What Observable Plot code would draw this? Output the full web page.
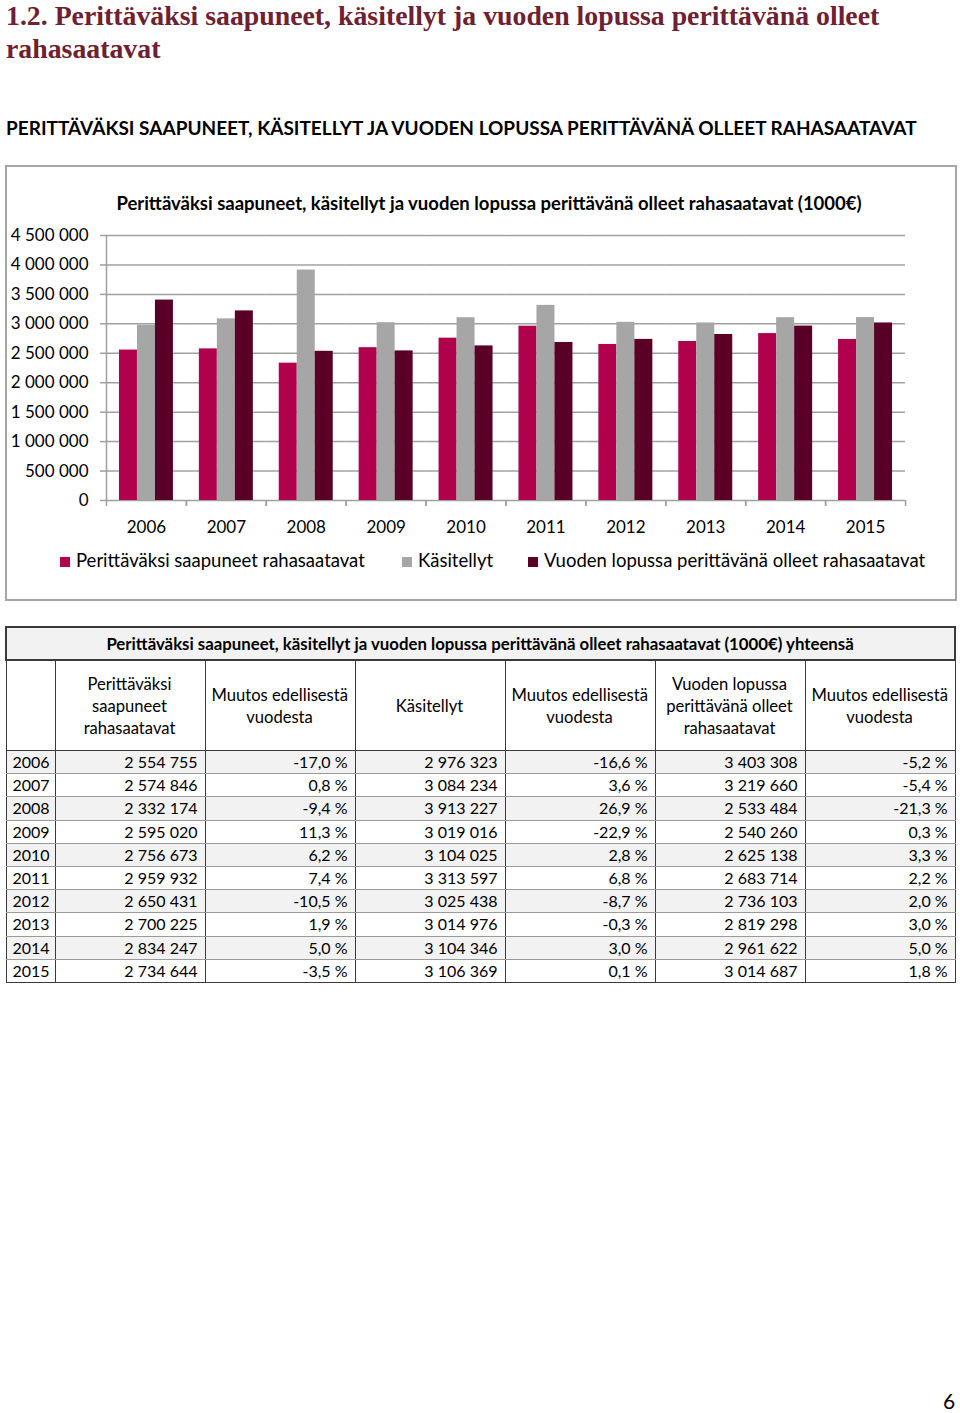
<!DOCTYPE html>
<html>
<head>
<meta charset="utf-8">
<script src="https://cdn.jsdelivr.net/npm/d3@7"></script>
<script src="https://cdn.jsdelivr.net/npm/@observablehq/plot@0.6"></script>
<style>
  body { margin: 0; background: #fff; }
  #page { position: relative; width: 960px; height: 1413px; overflow: hidden; font-family: Lato, "Noto Sans", sans-serif; color: #000; }
  .abs { position: absolute; white-space: nowrap; }
  .h1 { left: 6px; font-family: "Liberation Serif", serif; font-weight: bold; font-size: 27.8px; line-height: 30px; color: #6e2130; }
  #h1a { top: 1px; }
  #h1b { top: 34px; }
  #h2 { left: 6px; top: 117px; font-weight: bold; font-size: 19px; line-height: 22px; }
  #box { left: 5px; top: 165px; width: 952px; height: 436px; border: 2px solid #a6a6a6; box-sizing: border-box; }
  #ctitle { left: 0; width: 978px; text-align: center; top: 192px; font-weight: bold; font-size: 18.5px; line-height: 22px; }
  #chart { left: 0; top: 225px; }
  #legend { left: 0; top: 549px; font-size: 18.5px; line-height: 22px; }
  .item { position: absolute; white-space: nowrap; }
  .sw { display: inline-block; width: 10px; height: 10px; margin-right: 6px; vertical-align: 0px; }
  #tbl { left: 5px; top: 626px; width: 951px; border-collapse: collapse; font-size: 16px; table-layout: fixed; }
  #tbl td, #tbl th { padding: 0 7px 0 6px; }
  #tbl .ttl { background: #f2f2f2; font-weight: bold; text-align: center; height: 31px; border: 2px solid #3a3a3a; font-size: 16.8px; }
  #tbl .hd { font-weight: normal; text-align: center; height: 89px; line-height: 22px; font-size: 16.6px; border-left: 1px solid #3a3a3a; border-right: 1px solid #3a3a3a; border-bottom: 1px solid #3a3a3a; }
  #tbl td.num { text-align: right; }
  #tbl td { height: 22.2px; line-height: 22px; border-left: 1px solid #3a3a3a; border-right: 1px solid #3a3a3a; border-bottom: 1px solid #9a9a9a; }
  #tbl tr.odd td { background: #f2f2f2; }
  #tbl tr.last td { border-bottom: 1px solid #3a3a3a; }
  #pnum { left: 943px; top: 1392px; font-size: 21px; line-height: 18px; }
</style>
</head>
<body>
<div id="page">
  <div id="h1a" class="abs h1">1.2. Perittäväksi saapuneet, käsitellyt ja vuoden lopussa perittävänä olleet</div>
  <div id="h1b" class="abs h1">rahasaatavat</div>
  <div id="h2" class="abs">PERITTÄVÄKSI SAAPUNEET, KÄSITELLYT JA VUODEN LOPUSSA PERITTÄVÄNÄ OLLEET RAHASAATAVAT</div>
  <div id="box" class="abs"></div>
  <div id="ctitle" class="abs">Perittäväksi saapuneet, käsitellyt ja vuoden lopussa perittävänä olleet rahasaatavat (1000€)</div>
  <div id="chart" class="abs"></div>
  <div id="legend" class="abs"></div>
  <table id="tbl" class="abs"></table>
  <div id="pnum" class="abs">6</div>
</div>
<script>
// ---- Data ----
const years = [2006, 2007, 2008, 2009, 2010, 2011, 2012, 2013, 2014, 2015];
const saapuneet = [2554755, 2574846, 2332174, 2595020, 2756673, 2959932, 2650431, 2700225, 2834247, 2734644];
const saapuneetMuutos = [-17.0, 0.8, -9.4, 11.3, 6.2, 7.4, -10.5, 1.9, 5.0, -3.5];
const kasitellyt = [2976323, 3084234, 3913227, 3019016, 3104025, 3313597, 3025438, 3014976, 3104346, 3106369];
const kasitellytMuutos = [-16.6, 3.6, 26.9, -22.9, 2.8, 6.8, -8.7, -0.3, 3.0, 0.1];
const lopussa = [3403308, 3219660, 2533484, 2540260, 2625138, 2683714, 2736103, 2819298, 2961622, 3014687];
const lopussaMuutos = [-5.2, -5.4, -21.3, 0.3, 3.3, 2.2, 2.0, 3.0, 5.0, 1.8];
const seriesNames = ["Perittäväksi saapuneet rahasaatavat", "Käsitellyt", "Vuoden lopussa perittävänä olleet rahasaatavat"];
const seriesColors = ["#b1004c", "#a6a6a6", "#5a0027"];
const yTicks = [0, 500000, 1000000, 1500000, 2000000, 2500000, 3000000, 3500000, 4000000, 4500000];
const tableTitle = "Perittäväksi saapuneet, käsitellyt ja vuoden lopussa perittävänä olleet rahasaatavat (1000€) yhteensä";
const tableHeaders = ["", "Perittäväksi<br>saapuneet<br>rahasaatavat", "Muutos edellisestä<br>vuodesta", "Käsitellyt", "Muutos edellisestä<br>vuodesta", "Vuoden lopussa<br>perittävänä olleet<br>rahasaatavat", "Muutos edellisestä<br>vuodesta"];

// ---- Formatting ----
const loc = d3.formatLocale({decimal: ",", thousands: "\u00a0", grouping: [3], currency: ["", "€"], minus: "-"});
const fmtInt = loc.format(",d");
const fmtPct = v => loc.format(".1f")(v) + "\u00a0%";

// ---- Chart ----
const valuesBySeries = [saapuneet, kasitellyt, lopussa];
const rows = years.flatMap((yr, i) => seriesNames.map((s, j) => ({year: String(yr), series: s, value: valuesBySeries[j][i]})));
const gridColor = "#a0a0a0";

const chart = Plot.plot({
  width: 960,
  height: 320,
  marginLeft: 106,
  marginRight: 55,
  marginTop: 10,
  marginBottom: 45,
  style: {fontFamily: "Lato, 'Noto Sans', sans-serif", fontSize: "17px", color: "#000", background: "transparent", overflow: "visible"},
  fx: {domain: years.map(String), padding: 0, round: false, label: null},
  x: {domain: seriesNames, paddingInner: 0, paddingOuter: 0.72, round: false, axis: null},
  y: {domain: [0, 4500000], label: null},
  color: {domain: seriesNames, range: seriesColors},
  marks: [
    Plot.ruleY(yTicks, {stroke: gridColor, strokeWidth: 1.5}),
    Plot.frame({anchor: "left", facetAnchor: "left", stroke: gridColor, strokeWidth: 1.5}),
    Plot.barY(rows, {fx: "year", x: "series", y: "value", fill: "series"}),
    Plot.axisY({ticks: yTicks, tickFormat: fmtInt, tickSize: 6, tickPadding: 12, stroke: gridColor, strokeWidth: 1.5, fill: "#000", label: null}),
    Plot.axisFx({anchor: "bottom", tickSize: 6, tickPadding: 0, dx: -40, tickFormat: () => "", stroke: gridColor, strokeWidth: 1.5, label: null}),
    Plot.axisFx({anchor: "bottom", tickSize: 6, tickPadding: 0, dx: 40, tickFormat: () => "", stroke: gridColor, strokeWidth: 1.5, label: null}),
    Plot.axisFx({anchor: "bottom", tickSize: 0, tickPadding: 20, fill: "#000", label: null})
  ]
});
document.getElementById("chart").appendChild(chart);

// ---- Legend ----
const legendPos = [60, 402, 528];
const legend = document.getElementById("legend");
seriesNames.forEach((s, j) => {
  const it = document.createElement("div");
  it.className = "item";
  it.style.left = legendPos[j] + "px";
  it.innerHTML = `<span class="sw" style="background:${seriesColors[j]}"></span>${s}`;
  legend.appendChild(it);
});

// ---- Table ----
const colWidths = [49, 150, 150, 150, 150, 150, 150];
const tbl = document.getElementById("tbl");
let html = "<colgroup>" + colWidths.map(w => `<col style="width:${w}px">`).join("") + "</colgroup>";
html += `<tr><th class="ttl" colspan="7">${tableTitle}</th></tr>`;
html += "<tr>" + tableHeaders.map(h => `<th class="hd">${h}</th>`).join("") + "</tr>";
years.forEach((yr, i) => {
  const cls = (i % 2 === 0 ? "odd" : "") + (i === years.length - 1 ? " last" : "");
  html += `<tr class="${cls}"><td>${yr}</td>` +
    `<td class="num">${fmtInt(saapuneet[i])}</td><td class="num">${fmtPct(saapuneetMuutos[i])}</td>` +
    `<td class="num">${fmtInt(kasitellyt[i])}</td><td class="num">${fmtPct(kasitellytMuutos[i])}</td>` +
    `<td class="num">${fmtInt(lopussa[i])}</td><td class="num">${fmtPct(lopussaMuutos[i])}</td></tr>`;
});
tbl.innerHTML = html;
</script>
</body>
</html>
